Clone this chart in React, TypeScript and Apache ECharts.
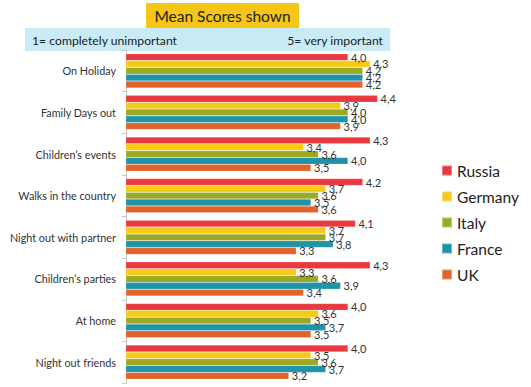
import React, { useEffect, useRef } from "react";
import * as echarts from "echarts";

const categories = [
  "On Holiday",
  "Family Days out",
  "Children’s events",
  "Walks in the country",
  "Night out with partner",
  "Children’s parties",
  "At home",
  "Night out friends",
];
const countries = ["Russia", "Germany", "Italy", "France", "UK"];
const russia = [4.0, 4.4, 4.3, 4.2, 4.1, 4.3, 4.0, 4.0];
const germany = [4.3, 3.9, 3.4, 3.7, 3.7, 3.3, 3.6, 3.5];
const italy = [4.2, 4.0, 3.6, 3.6, 3.7, 3.6, 3.5, 3.6];
const france = [4.2, 4.0, 4.0, 3.5, 3.8, 3.9, 3.7, 3.7];
const uk = [4.2, 3.9, 3.5, 3.6, 3.3, 3.4, 3.5, 3.2];
const seriesValues = [russia, germany, italy, france, uk];
const colors = ["#E9383F", "#F6CB17", "#9BA924", "#1F93AA", "#E1622A"];

const FONT = "Lato, 'Open Sans', sans-serif";

export default function App() {
  const ref = useRef<HTMLDivElement>(null);
  useEffect(() => {
    if (!ref.current) return;
    document.body.style.margin = "0";
    const chart = echarts.init(ref.current, null, { renderer: "svg" });
    chart.setOption({
      animation: false,
      textStyle: { fontFamily: FONT },
      grid: { left: 126, top: 50, right: 109, bottom: 4, containLabel: false },
      legend: {
        orient: "vertical",
        left: 441,
        top: 162,
        padding: 0,
        itemWidth: 10,
        itemHeight: 10,
        itemGap: 9,
        icon: "rect",
        data: countries,
        textStyle: { fontSize: 15.5, color: "#222", fontFamily: FONT, lineHeight: 17 },
      },
      xAxis: {
        type: "value",
        min: 1,
        max: 5,
        show: false,
      },
      yAxis: {
        type: "category",
        data: categories,
        inverse: true,
        axisLine: { show: true, lineStyle: { color: "#c8c8c8" } },
        axisTick: { show: true, length: 4, lineStyle: { color: "#c8c8c8" } },
        axisLabel: { fontSize: 10.8, color: "#333", margin: 10, fontFamily: FONT },
      },
      graphic: [
        { type: "rect", shape: { x: 146, y: 3, width: 153, height: 25 }, style: { fill: "#F5C518" } },
        {
          type: "text",
          x: 222.5,
          y: 15.5,
          style: { text: "Mean Scores shown", fill: "#222", fontSize: 15.5, fontFamily: FONT, align: "center", verticalAlign: "middle" },
        },
        { type: "rect", shape: { x: 25, y: 28, width: 365, height: 23 }, style: { fill: "#C9EBF5" } },
        {
          type: "text",
          x: 32,
          y: 40,
          style: { text: "1= completely unimportant", fill: "#222", fontSize: 12.2, fontFamily: FONT, align: "left", verticalAlign: "middle" },
        },
        {
          type: "text",
          x: 383,
          y: 40,
          style: { text: "5= very important", fill: "#222", fontSize: 12.2, fontFamily: FONT, align: "right", verticalAlign: "middle" },
        },
      ],
      series: countries.map((name, i) => ({
        name,
        type: "bar",
        data: seriesValues[i],
        barCategoryGap: "18%",
        barGap: "0%",
        itemStyle: { color: colors[i], borderColor: "rgba(255,255,255,0.35)", borderWidth: 0.5 },
        label: {
          show: true,
          position: "right",
          distance: 3,
          fontSize: 11,
          color: "#333",
          fontFamily: FONT,
          formatter: (p: any) => Number(p.value).toFixed(1).replace(".", ","),
        },
      })),
    });
    return () => chart.dispose();
  }, []);
  return <div ref={ref} style={{ width: 531, height: 387 }} />;
}
